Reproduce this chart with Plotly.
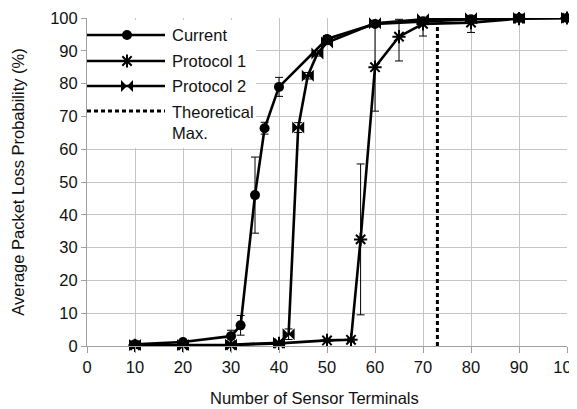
import plotly.graph_objects as go

# ---- data ----
cur_x = [10, 20, 30, 32, 35, 37, 40, 50, 60, 70, 80, 90, 100]
cur_y = [0.5, 1.2, 3.0, 6.3, 46.0, 66.4, 79.0, 93.6, 98.2, 99.0, 99.6, 100, 100]
cur_err = [0.3, 0.5, 1.8, 3.0, 11.6, 1.8, 2.9, 1.0, 0.8, 0.5, 0.3, 0, 0]

p1_x = [10, 20, 30, 40, 50, 55, 57, 60, 65, 70, 80, 90, 100]
p1_y = [0.2, 0.2, 0.3, 0.8, 1.7, 1.9, 32.5, 85.0, 94.3, 98.2, 98.6, 99.8, 100]
p1_err_plus = [0, 0, 0, 0.3, 0.4, 0.5, 23.0, 13.4, 5.3, 1.5, 1.2, 0.2, 0]
p1_err_minus = [0, 0, 0, 0.3, 0.4, 0.5, 23.0, 13.4, 7.4, 3.7, 3.0, 0.3, 0]

p2_x = [10, 20, 30, 40, 42, 44, 46, 48, 50, 60, 70, 80, 90, 100]
p2_y = [0.3, 0.3, 0.4, 1.0, 3.6, 66.6, 82.4, 89.2, 92.5, 98.4, 99.6, 99.9, 100, 100]
p2_err = [0, 0, 0, 0.3, 1.6, 1.5, 1.0, 0.8, 0.6, 0.5, 0.3, 0, 0, 0]

theo_x = [73, 73]
theo_y = [0, 98]

x_ticks = [0, 10, 20, 30, 40, 50, 60, 70, 80, 90, 100]
y_ticks = [0, 10, 20, 30, 40, 50, 60, 70, 80, 90, 100]

legend_names = ["Current", "Protocol 1", "Protocol 2", "Theoretical<br>Max."]

FONT = "Arial, 'Liberation Sans', sans-serif"
FS = 16.5
LW = 2.6

fig = go.Figure()

# theoretical max
fig.add_trace(go.Scatter(x=theo_x, y=theo_y, mode="lines",
                         line=dict(color="black", width=3, dash="4px,3px"),
                         showlegend=False, cliponaxis=False))

def err(arr, minus=None):
    d = dict(type="data", array=arr, visible=True, color="black",
             thickness=1, width=4)
    if minus is not None:
        d["symmetric"] = False
        d["arrayminus"] = minus
    return d

STAR = dict(symbol="asterisk-open", size=11, color="black",
            line=dict(color="black", width=2))
BOW = dict(symbol="bowtie", size=12, color="black")
DOT = dict(symbol="circle", size=10, color="black")

fig.add_trace(go.Scatter(x=p1_x, y=p1_y, mode="lines+markers",
                         line=dict(color="black", width=LW), marker=STAR,
                         error_y=err(p1_err_plus, p1_err_minus),
                         showlegend=False, cliponaxis=False))
fig.add_trace(go.Scatter(x=p2_x, y=p2_y, mode="lines+markers",
                         line=dict(color="black", width=LW), marker=BOW,
                         error_y=err(p2_err),
                         showlegend=False, cliponaxis=False))
fig.add_trace(go.Scatter(x=cur_x, y=cur_y, mode="lines+markers",
                         line=dict(color="black", width=LW), marker=DOT,
                         error_y=err(cur_err),
                         showlegend=False, cliponaxis=False))

# ---- page geometry (page has an 8px body margin) ----
OFF = 8
W, H = 577 - OFF, 409 - OFF
PL, PR, PT, PB = 87, 567, 18, 346     # plot area in page pixels
def nx(px):
    return (px - PL) / (PR - PL)
def ny(py):
    return (PB - py) / (PB - PT)

# ---- custom legend (overlay axes, 0..1 of plot area) ----
bx0, bx1, by0, by1 = nx(87), nx(256), ny(148), ny(20)
fig.add_trace(go.Scatter(x=[bx0, bx1, bx1, bx0, bx0], y=[by0, by0, by1, by1, by0],
                         mode="lines", fill="toself", fillcolor="white",
                         line=dict(width=0, color="white"),
                         xaxis="x2", yaxis="y2", showlegend=False,
                         hoverinfo="skip"))

rows = [35, 61, 86, 111]
styles = [DOT, STAR, BOW, None]
for i, py in enumerate(rows):
    yy = ny(py)
    dash = "4px,3px" if i == 3 else "solid"
    fig.add_trace(go.Scatter(x=[nx(87), nx(165)], y=[yy, yy], mode="lines",
                             line=dict(color="black", width=3 if i == 3 else LW, dash=dash),
                             xaxis="x2", yaxis="y2", showlegend=False,
                             hoverinfo="skip", cliponaxis=False))
    if styles[i] is not None:
        fig.add_trace(go.Scatter(x=[nx(127)], y=[yy], mode="markers", marker=styles[i],
                                 xaxis="x2", yaxis="y2", showlegend=False,
                                 hoverinfo="skip", cliponaxis=False))
    fig.add_annotation(x=nx(170), y=yy if i < 3 else ny(101),
                       xref="paper", yref="paper",
                       xanchor="left", yanchor="middle" if i < 3 else "top",
                       align="left", showarrow=False, text=legend_names[i],
                       font=dict(family=FONT, size=FS, color="#111"))

# x-axis title as annotation (slightly left of centre as in reference)
fig.add_annotation(x=nx(314), y=ny(398), xref="paper", yref="paper",
                   xanchor="center", yanchor="middle", showarrow=False,
                   text="Number of Sensor Terminals",
                   font=dict(family=FONT, size=FS, color="#111"))

grid = "#c4c4c4"
axcol = "#a0a0a0"
fig.update_layout(
    width=W, height=H,
    margin=dict(l=PL - OFF, r=W - (PR - OFF), t=PT - OFF, b=H - (PB - OFF),
                autoexpand=False),
    paper_bgcolor="white", plot_bgcolor="white",
    font=dict(family=FONT, size=FS, color="#111"),
    showlegend=False,
    xaxis=dict(range=[0, 100], tickvals=x_ticks, ticktext=[str(v) for v in x_ticks],
               showgrid=True, gridcolor=grid, gridwidth=1,
               showline=True, linecolor=axcol, linewidth=1,
               ticks="outside", ticklen=6, tickcolor=axcol,
               zeroline=False, tickfont=dict(size=FS),
               automargin=False, ticklabeloverflow="allow"),
    yaxis=dict(range=[0, 100], tickvals=y_ticks, ticktext=[str(v) for v in y_ticks],
               showgrid=True, gridcolor=grid, gridwidth=1,
               showline=True, linecolor=axcol, linewidth=1,
               ticks="outside", ticklen=5, tickcolor=axcol,
               zeroline=False, tickfont=dict(size=FS),
               automargin=False, ticklabeloverflow="allow",
               title=dict(text="Average Packet Loss Probability (%)",
                          font=dict(size=FS), standoff=21)),
    xaxis2=dict(overlaying="x", range=[0, 1], visible=False, anchor="y2"),
    yaxis2=dict(overlaying="y", range=[0, 1], visible=False, anchor="x2"),
)

fig.write_html("out.html")
